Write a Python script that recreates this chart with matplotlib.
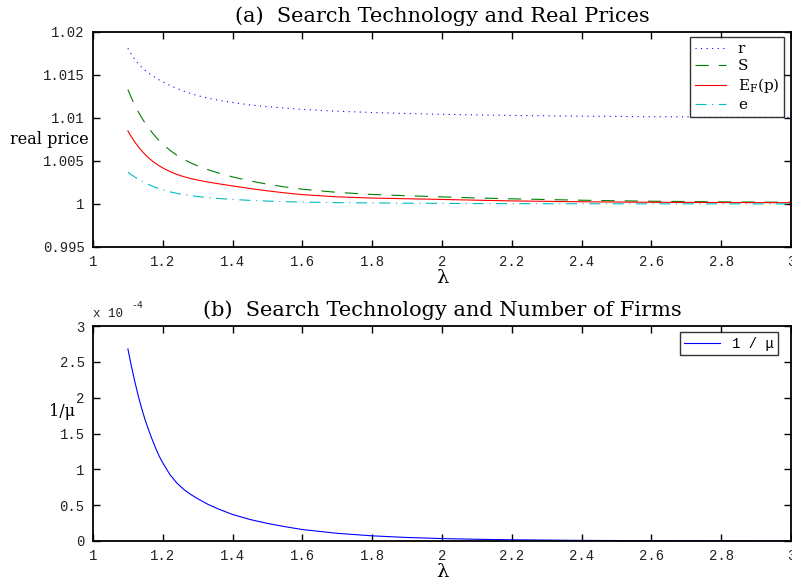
import matplotlib
matplotlib.use("Agg")
import matplotlib.pyplot as plt
from matplotlib.ticker import FixedLocator, FixedFormatter

lam = [1.10, 1.11, 1.12, 1.13, 1.14, 1.15, 1.16, 1.17, 1.18, 1.19, 1.20,
       1.22, 1.24, 1.26, 1.28, 1.30, 1.33, 1.36, 1.40, 1.45, 1.50, 1.55,
       1.60, 1.70, 1.80, 1.90, 2.00, 2.10, 2.20, 2.40, 2.60, 2.80, 3.00]

# real prices
r_vals = [1.01810, 1.01740, 1.01680, 1.01630, 1.01588, 1.01552, 1.01520,
          1.01492, 1.01466, 1.01442, 1.01420, 1.01380, 1.01344, 1.01312,
          1.01284, 1.01260, 1.01230, 1.01206, 1.01180, 1.01152, 1.01132,
          1.01115, 1.01100, 1.01079, 1.01064, 1.01052, 1.01043, 1.01036,
          1.01030, 1.01021, 1.01015, 1.01011, 1.01008]
S_vals = [1.01330, 1.01235, 1.01148, 1.01070, 1.01000, 1.00937, 1.00880,
          1.00828, 1.00780, 1.00736, 1.00696, 1.00626, 1.00568, 1.00519,
          1.00478, 1.00443, 1.00398, 1.00360, 1.00315, 1.00268, 1.00230,
          1.00198, 1.00172, 1.00135, 1.00111, 1.00096, 1.00083, 1.00070,
          1.00060, 1.00044, 1.00032, 1.00025, 1.00020]
E_vals = [1.00850, 1.00781, 1.00720, 1.00665, 1.00616, 1.00573, 1.00534,
          1.00500, 1.00470, 1.00443, 1.00419, 1.00378, 1.00345, 1.00318,
          1.00296, 1.00278, 1.00255, 1.00235, 1.00210, 1.00180, 1.00153,
          1.00129, 1.00109, 1.00083, 1.00069, 1.00061, 1.00053, 1.00044,
          1.00036, 1.00026, 1.00020, 1.00017, 1.00015]
e_vals = [1.00370, 1.00340, 1.00313, 1.00288, 1.00265, 1.00244, 1.00225,
          1.00208, 1.00192, 1.00178, 1.00165, 1.00142, 1.00124, 1.00109,
          1.00097, 1.00087, 1.00074, 1.00064, 1.00053, 1.00042, 1.00034,
          1.00027, 1.00022, 1.00016, 1.00012, 1.00009, 1.00007, 1.00005,
          1.00004, 1.00003, 1.00002, 1.000015, 1.00001]
# 1/mu in units of 1e-4
inv_mu = [2.68, 2.44, 2.22, 2.02, 1.84, 1.68, 1.54, 1.41, 1.29, 1.18, 1.09,
          0.93, 0.81, 0.72, 0.65, 0.59, 0.51, 0.445, 0.37, 0.30, 0.245, 0.20,
          0.16, 0.107, 0.072, 0.049, 0.034, 0.024, 0.017, 0.0085, 0.0043,
          0.0022, 0.0011]

xticks = [1, 1.2, 1.4, 1.6, 1.8, 2, 2.2, 2.4, 2.6, 2.8, 3]
xticklabels = ["1", "1.2", "1.4", "1.6", "1.8", "2", "2.2", "2.4", "2.6", "2.8", "3"]
yticks_a = [0.995, 1.0, 1.005, 1.01, 1.015, 1.02]
yticklabels_a = ["0.995", "1", "1.005", "1.01", "1.015", "1.02"]
yticks_b = [0, 0.5, 1, 1.5, 2, 2.5, 3]
yticklabels_b = ["0", "0.5", "1", "1.5", "2", "2.5", "3"]

SERIF = "DejaVu Serif"
MONO = "Liberation Mono"

fig = plt.figure(figsize=(7.92, 5.83), dpi=100)
W, H = 792, 583
def rect(l, t, r, b):
    return [l / W, 1 - b / H, (r - l) / W, (b - t) / H]

ax1 = fig.add_axes(rect(93, 32, 791, 247))
ax2 = fig.add_axes(rect(93, 326, 791, 541))

def style(ax, yt, ytl, ylim):
    ax.set_xlim(1, 3)
    ax.set_ylim(*ylim)
    ax.xaxis.set_major_locator(FixedLocator(xticks))
    ax.xaxis.set_major_formatter(FixedFormatter(xticklabels))
    ax.yaxis.set_major_locator(FixedLocator(yt))
    ax.yaxis.set_major_formatter(FixedFormatter(ytl))
    ax.tick_params(direction="in", top=True, right=True, length=5, width=1.0,
                   labelsize=10, colors="black", pad=6)
    for lab in ax.get_xticklabels() + ax.get_yticklabels():
        lab.set_fontfamily(MONO)
        lab.set_color("#222222")
    for sp in ax.spines.values():
        sp.set_linewidth(1.3)

style(ax1, yticks_a, yticklabels_a, (0.995, 1.02))
style(ax2, yticks_b, yticklabels_b, (0, 3))

lw = 0.8
ax1.plot(lam, r_vals, color=(0, 0, 1), linestyle=(0, (1, 4)), lw=lw, label="r")
ax1.plot(lam, S_vals, color=(0, 0.5, 0), linestyle=(0, (12, 9)), lw=lw, label="S")
ax1.plot(lam, E_vals, color=(1, 0, 0), linestyle="-", lw=lw, label=r"E$_\mathregular{F}$(p)")
ax1.plot(lam, e_vals, color=(0, 0.75, 0.75), linestyle=(0, (10, 5, 1, 5)), lw=lw, label="e")

leg1 = ax1.legend(loc="upper right", bbox_to_anchor=(0.99, 0.975), frameon=True,
                  fancybox=False, edgecolor="black",
                  prop={"family": SERIF, "size": 11}, handlelength=2.0,
                  borderaxespad=0.0, labelspacing=0.2, borderpad=0.3,
                  handletextpad=0.8)
leg1.get_frame().set_linewidth(1.0)

ax2.plot(lam, inv_mu, color=(0, 0, 1), lw=lw, label="1 / \u03bc")
leg2 = ax2.legend(loc="upper right", bbox_to_anchor=(0.982, 0.97), frameon=True,
                  fancybox=False, edgecolor="black",
                  prop={"family": MONO, "size": 10}, handlelength=2.6,
                  borderaxespad=0.0, borderpad=0.3, handletextpad=0.9)
leg2.get_frame().set_linewidth(1.0)

ax1.set_title("(a)  Search Technology and Real Prices", fontfamily=SERIF, fontsize=15, pad=7)
ax2.set_title("(b)  Search Technology and Number of Firms", fontfamily=SERIF, fontsize=15, pad=7)

ax1.set_xlabel("\u03bb", fontfamily=SERIF, fontsize=14, labelpad=0)
ax2.set_xlabel("\u03bb", fontfamily=SERIF, fontsize=14, labelpad=0)
ax1.set_ylabel("real price", fontfamily=SERIF, fontsize=11.5, rotation=0, ha="right", va="center")
ax1.yaxis.set_label_coords(-0.006, 0.5)
ax2.set_ylabel("1/\u03bc", fontfamily=SERIF, fontsize=11.5, rotation=0, ha="right", va="center")
ax2.yaxis.set_label_coords(-0.026, 0.60)

ax2.text(0.0, 1.03, "x 10", transform=ax2.transAxes, fontfamily=MONO, fontsize=9,
         ha="left", va="bottom", color="#222222")
ax2.text(0.055, 1.075, "-4", transform=ax2.transAxes, fontfamily=MONO, fontsize=7,
         ha="left", va="bottom", color="#222222")

fig.savefig("out.png", dpi=100)
